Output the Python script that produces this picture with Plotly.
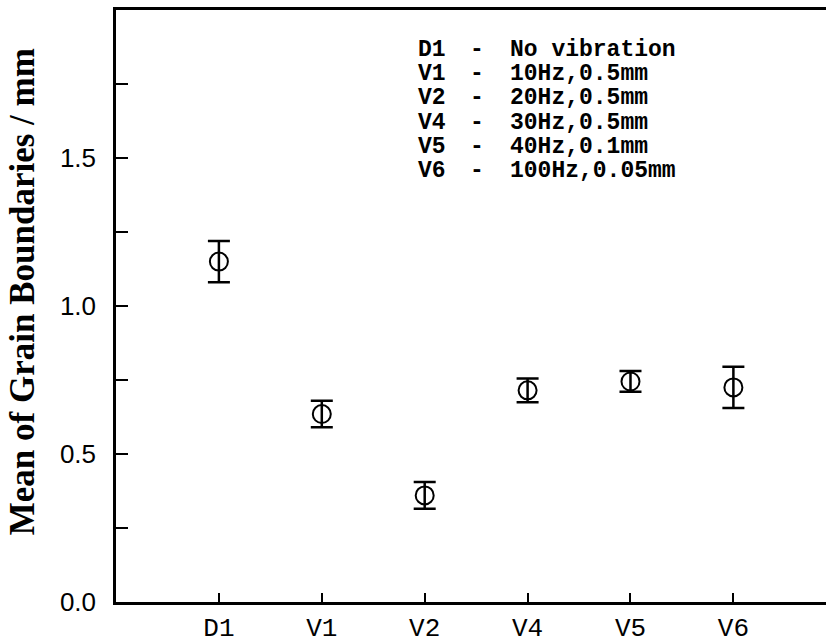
import plotly.graph_objects as go

categories = ["D1", "V1", "V2", "V4", "V5", "V6"]
means = [1.15, 0.635, 0.36, 0.715, 0.745, 0.725]
errors = [0.07, 0.045, 0.045, 0.04, 0.035, 0.07]
legend_codes = ["D1", "V1", "V2", "V4", "V5", "V6"]
legend_desc = ["No vibration", "10Hz,0.5mm", "20Hz,0.5mm", "30Hz,0.5mm", "40Hz,0.1mm", "100Hz,0.05mm"]
y_ticks = [0.0, 0.5, 1.0, 1.5]
y_tick_text = ["0.0", "0.5", "1.0", "1.5"]
y_minor = [0.25, 0.75, 1.25, 1.75]

xpos = list(range(1, len(categories) + 1))

fig = go.Figure()
fig.add_trace(go.Scatter(
    x=xpos, y=means, mode="markers",
    marker=dict(symbol="circle-open", size=18, color="black", line=dict(width=2, color="black")),
    error_y=dict(type="data", array=errors, visible=True, color="black", thickness=2.5, width=11),
    showlegend=False,
))

# legend text block (paper coordinates, rows about 24.6 px apart)
leg_font = dict(family="Liberation Mono", size=23, color="black", weight="bold")
for i, (code, desc) in enumerate(zip(legend_codes, legend_desc)):
    yv = 0.9331 - i * 0.0411
    fig.add_annotation(x=0.4225, y=yv, xref="paper", yref="paper", text=code, showarrow=False,
                       xanchor="left", yanchor="middle", font=leg_font)
    fig.add_annotation(x=0.5085, y=yv, xref="paper", yref="paper", text="-", showarrow=False,
                       xanchor="center", yanchor="middle", font=leg_font)
    fig.add_annotation(x=0.5521, y=yv, xref="paper", yref="paper", text=desc, showarrow=False,
                       xanchor="left", yanchor="middle", font=leg_font)

# y-axis title
fig.add_annotation(x=-0.1324, y=0.525, xref="paper", yref="paper",
                   text="Mean of Grain Boundaries / mm", textangle=-90, showarrow=False,
                   xanchor="center", yanchor="middle",
                   font=dict(family="Liberation Serif", size=35, color="black", weight="bold"))

fig.update_layout(
    width=826, height=644,
    margin=dict(l=116, r=0, t=10, b=36),
    plot_bgcolor="white", paper_bgcolor="white",
    xaxis=dict(
        range=[0, 6.9], tickvals=xpos, ticktext=categories,
        ticks="inside", ticklen=9, tickwidth=2, tickcolor="black",
        showline=True, linecolor="black", linewidth=2.5, mirror=True,
        showgrid=False, zeroline=False,
        tickfont=dict(family="Liberation Mono", size=26, color="black"),
    ),
    yaxis=dict(
        range=[0, 2.0], tickvals=y_ticks, ticktext=y_tick_text,
        ticks="inside", ticklen=12, tickwidth=2, tickcolor="black",
        minor=dict(tickvals=y_minor, ticks="inside", ticklen=12, tickwidth=2, tickcolor="black"),
        showline=True, linecolor="black", linewidth=2.5, mirror=False,
        showgrid=False, zeroline=False, ticklabelstandoff=12,
        tickfont=dict(family="Liberation Sans", size=26, color="black"),
    ),
)

fig.write_html(
    "out.html",
    config={"displayModeBar": False},
    post_script="document.body.style.margin='0px';document.body.style.overflow='hidden';",
)
